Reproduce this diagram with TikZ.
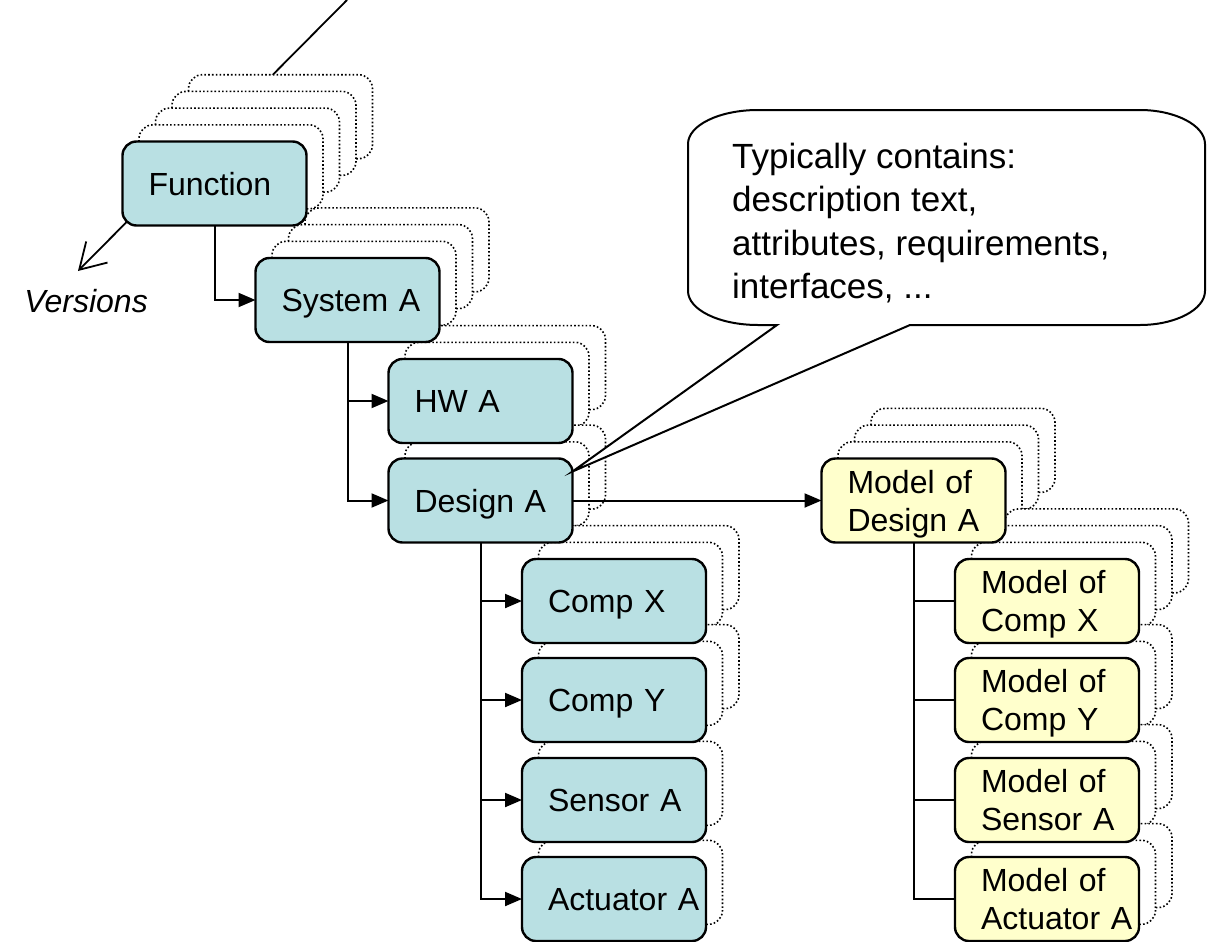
\documentclass[tikz,border=0pt]{standalone}
\usepackage{fontspec}
\setmainfont{Liberation Sans}
\usetikzlibrary{arrows.meta,calc}
\pgfdeclarelayer{axisl}
\pgfdeclarelayer{stackl}
\pgfsetlayers{axisl,stackl,main}
\definecolor{boxteal}{RGB}{185,224,227}
\definecolor{boxcream}{RGB}{255,255,204}
% dotted "older versions" behind a node: #1 node name, #2 number of copies
\newcommand\ghoststack[2]{%
  \foreach \k in {#2,...,1}{%
    \draw[ghost] ($(#1.south west)+(\k*16.5,-\k*16.7)$) rectangle ($(#1.north east)+(\k*16.5,-\k*16.7)$);%
  }%
}
% box caption: left inset, lines stacked, baseline on the first line
\newcommand\boxlabel[1]{\hspace*{26pt}\begin{tabular}[t]{@{}l@{}}#1\end{tabular}}
\begin{document}
\begin{tikzpicture}[x=1pt,y=-1pt,
  box/.style={draw=black, line width=2.4pt, rounded corners=14pt,
    minimum width=184pt, minimum height=84pt, inner xsep=0pt, inner ysep=0pt,
    outer sep=0pt, text width=184pt, align=left,
    font=\fontsize{32}{38}\selectfont, text height=23pt, text depth=0pt},
  twoline/.style={text depth=38pt},
  hwbox/.style={box, fill=boxteal},
  mdlbox/.style={box, fill=boxcream, twoline},
  ghost/.style={draw=black, fill=white, line width=1.6pt,
    dash pattern=on 1.6pt off 2.2pt, rounded corners=14pt},
  conn/.style={draw=black, line width=2pt},
  feed/.style={conn, -{Triangle[length=17pt,width=14pt]}},
]
\useasboundingbox (0,0) rectangle (1207,942);

% product structure
\node[hwbox] (func) at (214.5,183.5) {\boxlabel{Function}};
\node[hwbox] (sys)  at (347.5,300)   {\boxlabel{System A}};
\node[hwbox] (hw)   at (480.5,401)   {\boxlabel{HW A}};
\node[hwbox] (des)  at (480.5,500.5) {\boxlabel{Design A}};
\node[hwbox] (cx)   at (614,601)     {\boxlabel{Comp X}};
\node[hwbox] (cy)   at (614,700)     {\boxlabel{Comp Y}};
\node[hwbox] (sa)   at (614,800)     {\boxlabel{Sensor A}};
\node[hwbox] (aa)   at (614,899)     {\boxlabel{Actuator A}};

% model structure
\node[mdlbox] (mdes) at (913.5,500.5) {\boxlabel{Model of\\Design A}};
\node[mdlbox] (mcx)  at (1047,601)    {\boxlabel{Model of\\Comp X}};
\node[mdlbox] (mcy)  at (1047,700)    {\boxlabel{Model of\\Comp Y}};
\node[mdlbox] (msa)  at (1047,800)    {\boxlabel{Model of\\Sensor A}};
\node[mdlbox] (maa)  at (1047,899)    {\boxlabel{Model of\\Actuator A}};

% version stacks
\begin{pgfonlayer}{stackl}
  \ghoststack{func}{4}
  \ghoststack{sys}{3}
  \ghoststack{hw}{2}
  \ghoststack{des}{2}
  \ghoststack{cx}{2}
  \ghoststack{cy}{2}
  \ghoststack{sa}{1}
  \ghoststack{aa}{1}
  \ghoststack{mdes}{3}
  \ghoststack{mcx}{3}
  \ghoststack{mcy}{2}
  \ghoststack{msa}{2}
  \ghoststack{maa}{2}
\end{pgfonlayer}

% version axis through the function stack
\coordinate (vtop) at (347,0);
\coordinate (vend) at (78,271);
\begin{pgfonlayer}{axisl}
  \draw[line width=1.8pt, -{Straight Barb[length=25pt,width=30pt]}] (vtop) -- (vend);
\end{pgfonlayer}
\node[font=\itshape\fontsize{32}{38}\selectfont, anchor=base east, inner sep=0pt] (vlabel) at (148,312) {Versions};

% hierarchy connectors
\draw[feed] (func.south) |- (sys.west);
\draw[feed] (sys.south) |- (hw.west);
\draw[feed] (sys.south) |- (des.west);
\draw[feed] (des.south) |- (cx.west);
\draw[feed] (des.south) |- (cy.west);
\draw[feed] (des.south) |- (sa.west);
\draw[feed] (des.south) |- (aa.west);
\draw[feed] (des.east) -- (mdes.west);
\draw[conn] (mdes.south) |- (mcx.west);
\draw[conn] (mdes.south) |- (mcy.west);
\draw[conn] (mdes.south) |- (msa.west);
\draw[conn] (mdes.south) |- (maa.west);

% speech bubble pointing at Design A
\coordinate (tip) at ($(des.north east)+(0,13)$);
\draw[line width=2pt, fill=white]
  (777,325) -- (758,325)
  .. controls (719.4,325) and (688,309.8) .. (688,291)
  -- (688,144)
  .. controls (688,125.2) and (719.4,110) .. (758,110)
  -- (1140,110)
  .. controls (1175,110) and (1205,125.2) .. (1205,144)
  -- (1205,291)
  .. controls (1205,309.8) and (1175,325) .. (1140,325)
  -- (910,325) -- (tip) -- cycle;
\node[anchor=base west, inner sep=0pt, font=\fontsize{35}{43.5}\selectfont] (note) at (732,168)
  {\begin{tabular}[t]{@{}l@{}}Typically contains:\\description text,\\attributes, requirements,\\interfaces, ...\end{tabular}};
\end{tikzpicture}
\end{document}
